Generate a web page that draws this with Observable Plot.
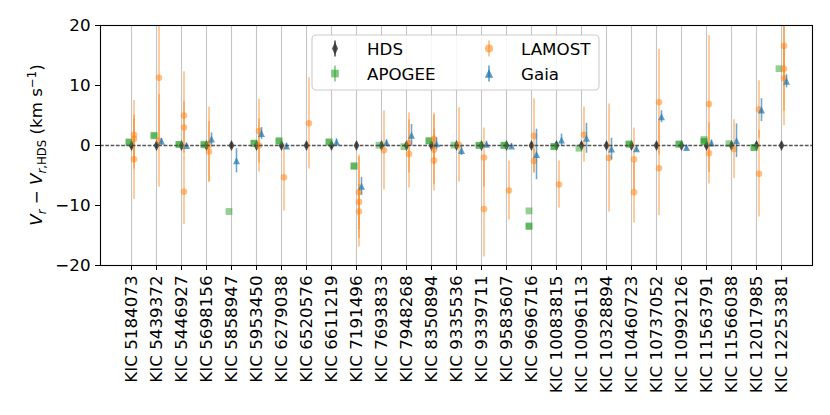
<!DOCTYPE html>
<html><head><meta charset="utf-8">
<script src="https://cdn.jsdelivr.net/npm/d3@7"></script>
<script src="https://cdn.jsdelivr.net/npm/@observablehq/plot@0.6"></script>
<style>
body{margin:0;background:#fff;}
#chart svg{font-family:"DejaVu Sans",sans-serif;}
</style>
</head><body><div id="chart"></div>
<script>
// ---------- data ----------
const stars = ["KIC 5184073","KIC 5439372","KIC 5446927","KIC 5698156","KIC 5858947","KIC 5953450","KIC 6279038","KIC 6520576","KIC 6611219","KIC 7191496","KIC 7693833","KIC 7948268","KIC 8350894","KIC 9335536","KIC 9339711","KIC 9583607","KIC 9696716","KIC 10083815","KIC 10096113","KIC 10328894","KIC 10460723","KIC 10737052","KIC 10992126","KIC 11563791","KIC 11566038","KIC 12017985","KIC 12253381"];

// HDS (reference): difference is zero by definition
const hdsDv  = [0,0,0,0,0,0,0,0,0,0,0,0,0,0,0,0,0,0,0,0,0,0,0,0,0,0,0];
const hdsErr = [0.5,0.5,0.5,0.5,0.5,0.5,0.5,0.5,0.5,0.5,0.5,0.5,0.5,0.5,0.5,0.5,0.5,0.5,0.5,0.5,0.5,0.5,0.5,0.5,0.5,0.5,0.5];

// APOGEE visits (star index, dV)
const apogeeStar = [0,0, 1,1, 2,2, 3,3, 4, 5,5, 6,6, 8,8, 9,9, 10, 11, 12,12, 13, 14,14, 15,15, 16,16,16, 17,17, 18, 20,20, 22,22, 23,23,23, 24, 25,25, 26];
const apogeeDv   = [0.6,0.5, 1.7,1.6, 0.2,0.15, 0.2,0.1, -11.0, 0.4,0.35, 0.8,0.7, 0.6,0.55, -3.5,-3.35, 0.05, -0.2, 0.8,0.75, 0.05, 0.05,0.0, 0.0,0.05, -10.9,-13.4,-13.5, -0.15,-0.2, -0.45, 0.25,0.2, 0.2,0.25, 1.0,0.65,0.7, 0.3, -0.3,-0.35, 12.8];

// LAMOST epochs (star index, dV, error)
const lamostStar = [0,0,0, 1,1, 2,2,2, 3,3, 5,5, 6, 7, 9,9,9, 10, 11,11, 12,12,12, 13, 14,14, 15, 16,16, 17, 18, 19, 20,20, 21,21, 23,23, 24, 25,25, 26,26,26];
const lamostDv   = [1.8,1.1,-2.3, 11.3,0.8, 5.0,3.0,-7.7, 0.1,-1.0, 2.4,0.0, -5.3, 3.7, -7.8,-9.4,-11.0, -0.8, 0.4,-1.4, 1.1,-0.7,-2.5, 0.1, -2.0,-10.6, -7.5, 1.6,-2.6, -6.5, 1.8, -2.1, -2.3,-7.8, 7.2,-3.8, 6.9,-1.3, -0.6, 6.0,-4.7, 16.6,12.8,11.2];
const lamostErr  = [5.7,4.0,6.7, 10.5,7.7, 7.3,4.3,5.5, 6.3,5.0, 5.3,4.4, 5.6, 7.6, 6.2,7.5,4.5, 6.6, 5.0,5.7, 4.3,5.8,5.1, 6.2, 4.9,8.0, 4.9, 6.2,2.0, 3.9, 4.6, 9.0, 5.2,5.1, 8.8,7.9, 11.4,5.1, 4.9, 4.8,7.2, 6.0,9.5,5.5];

// Gaia (star index, dV, error)
const gaiaStar = [1,2,3,4,5,6,8,9,10,11,12,13,14,15,16,17,18,19,20,21,22,23,24,25,26];
const gaiaDv   = [0.7,0.0,1.1,-2.55,2.0,-0.1,0.6,-6.8,0.45,1.7,0.3,-0.85,0.2,-0.1,-1.5,0.9,1.2,-0.6,-0.55,4.8,-0.35,0.4,0.8,5.9,10.7];
const gaiaErr  = [0.5,0.4,1.0,2.0,1.0,0.5,0.5,1.5,0.5,1.8,1.0,0.8,0.5,0.4,4.2,1.0,2.5,1.8,0.5,1.0,0.4,0.5,2.8,1.9,1.1];

const yTicks = [-20,-10,0,10,20];
const legendLabels = ["HDS","APOGEE","LAMOST","Gaia"];

// ---------- build tables ----------
const hds = stars.map((s,i)=>({star:s, dv:hdsDv[i], err:hdsErr[i]}));
const apogee = apogeeStar.map((s,i)=>({star:stars[s], dv:apogeeDv[i]}));
const lamost = lamostStar.map((s,i)=>({star:stars[s], dv:lamostDv[i], err:lamostErr[i]}));
const gaia = gaiaStar.map((s,i)=>({star:stars[s], dv:gaiaDv[i], err:gaiaErr[i]}));

// ---------- symbols ----------
const mkDiamond = (hw,hh)=>({draw(c){c.moveTo(0,-hh);c.lineTo(hw,0);c.lineTo(0,hh);c.lineTo(-hw,0);c.closePath();}});
const mkSquare = (h)=>({draw(c){c.moveTo(-h,-h);c.lineTo(h,-h);c.lineTo(h,h);c.lineTo(-h,h);c.closePath();}});
const mkTri = (h)=>({draw(c){c.moveTo(0,-h);c.lineTo(h,h);c.lineTo(-h,h);c.closePath();}});
const mkCircle = (r)=>({draw(c){c.moveTo(r,0);c.arc(0,0,r,0,2*Math.PI);c.closePath();}});

const C_HDS="#333333", C_APO="#2ca02c", C_LAM="#ff7f0e", C_GAIA="#1f77b4";
const dxA=-2.5, dxL=2.5, dxG=5;

const plot = Plot.plot({
  width: 830, height: 415,
  marginLeft: 100, marginRight: 18, marginTop: 25, marginBottom: 150,
  style: {fontFamily: "'DejaVu Sans', sans-serif", fontSize: "16.7px", background: "white", color: "black"},
  x: {type: "point", domain: stars, padding: 1},
  y: {domain: [-20, 20]},
  marks: [
    Plot.gridX({stroke: "#b0b0b0", strokeOpacity: 0.75, strokeWidth: 1.1}),
    Plot.axisX({tickRotate: -90, tickSize: 5, tickPadding: 5, label: null, fontSize: 16.7}),
    Plot.axisY({ticks: yTicks, tickSize: 5, tickPadding: 5, label: null, fontSize: 16.7}),
    // HDS
    Plot.ruleX(hds, {x:"star", y1:d=>d.dv-d.err, y2:d=>d.dv+d.err, stroke:C_HDS, strokeWidth:1.5, strokeOpacity:0.85}),
    Plot.dot(hds, {x:"star", y:"dv", symbol: mkDiamond(2.8,5.6), fill:C_HDS, fillOpacity:0.85, stroke:null}),
    // APOGEE
    Plot.dot(apogee, {x:"star", y:"dv", dx:dxA, symbol: mkSquare(3.4), fill:C_APO, fillOpacity:0.5, stroke:null}),
    // LAMOST
    Plot.ruleX(lamost, {x:"star", y1:d=>d.dv-d.err, y2:d=>d.dv+d.err, dx:dxL, stroke:C_LAM, strokeWidth:1.6, strokeOpacity:0.5, clip:true}),
    Plot.dot(lamost, {x:"star", y:"dv", dx:dxL, symbol: mkCircle(3.3), fill:C_LAM, fillOpacity:0.5, stroke:null, clip:true}),
    // Gaia
    Plot.ruleX(gaia, {x:"star", y1:d=>d.dv-d.err, y2:d=>d.dv+d.err, dx:dxG, stroke:C_GAIA, strokeWidth:1.6, strokeOpacity:0.65, clip:true}),
    Plot.dot(gaia, {x:"star", y:"dv", dx:dxG, symbol: mkTri(3.5), fill:C_GAIA, fillOpacity:0.7, stroke:null}),
    // zero line
    Plot.ruleY([0], {stroke:"#444", strokeDasharray:"3.7,1.6", strokeWidth:1.5, strokeOpacity:0.9}),
    Plot.frame({stroke:"black", strokeWidth:1.1})
  ]
});
document.getElementById("chart").appendChild(plot);

// ---------- y label ----------
const svg = d3.select(plot);
const fs = 16.7, ss = 11.7;
const yl = svg.append("text")
  .attr("transform","translate(42,145) rotate(-90)")
  .attr("text-anchor","middle")
  .attr("font-size",fs)
  .attr("fill","black");
yl.append("tspan").attr("font-style","italic").text("V");
yl.append("tspan").attr("font-style","italic").attr("font-size",ss).attr("dy",3.5).text("r");
yl.append("tspan").attr("dy",-3.5).text(" \u2212 ");
yl.append("tspan").attr("font-style","italic").text("V");
yl.append("tspan").attr("font-style","italic").attr("font-size",ss).attr("dy",3.5).text("r");
yl.append("tspan").attr("font-size",ss).text(",HDS");
yl.append("tspan").attr("dy",-3.5).text(" (km s");
yl.append("tspan").attr("font-size",ss).attr("dy",-6.5).text("\u22121");
yl.append("tspan").attr("dy",6.5).text(")");

// ---------- legend ----------
const lg = svg.append("g").attr("text-anchor","start");
lg.append("rect").attr("x",312).attr("y",35).attr("width",287).attr("height",55).attr("rx",4)
  .attr("fill","white").attr("fill-opacity",0.85).attr("stroke","#cccccc").attr("stroke-width",1.1);
const entries = [
  {label:legendLabels[0], x:335, y:48.5, color:C_HDS, sym:mkDiamond(3,6.5), op:0.85, eop:0.85},
  {label:legendLabels[1], x:335, y:73.5, color:C_APO, sym:mkSquare(3.8), op:0.6, eop:0.6},
  {label:legendLabels[2], x:489, y:48.5, color:C_LAM, sym:mkCircle(4), op:0.55, eop:0.55},
  {label:legendLabels[3], x:489, y:73.5, color:C_GAIA, sym:mkTri(4.2), op:0.75, eop:0.7}
];
for (const e of entries) {
  lg.append("line").attr("x1",e.x).attr("x2",e.x).attr("y1",e.y-8).attr("y2",e.y+8)
    .attr("stroke",e.color).attr("stroke-width",1.6).attr("stroke-opacity",e.eop);
  const p = d3.path(); e.sym.draw(p);
  lg.append("path").attr("transform",`translate(${e.x},${e.y})`).attr("d",p.toString())
    .attr("fill",e.color).attr("fill-opacity",e.op);
  lg.append("text").attr("x",e.x+32).attr("y",e.y).attr("dy","0.36em")
    .attr("text-anchor","start")
    .attr("font-size",fs).attr("fill","black").text(e.label);
}
</script>
</body></html>
